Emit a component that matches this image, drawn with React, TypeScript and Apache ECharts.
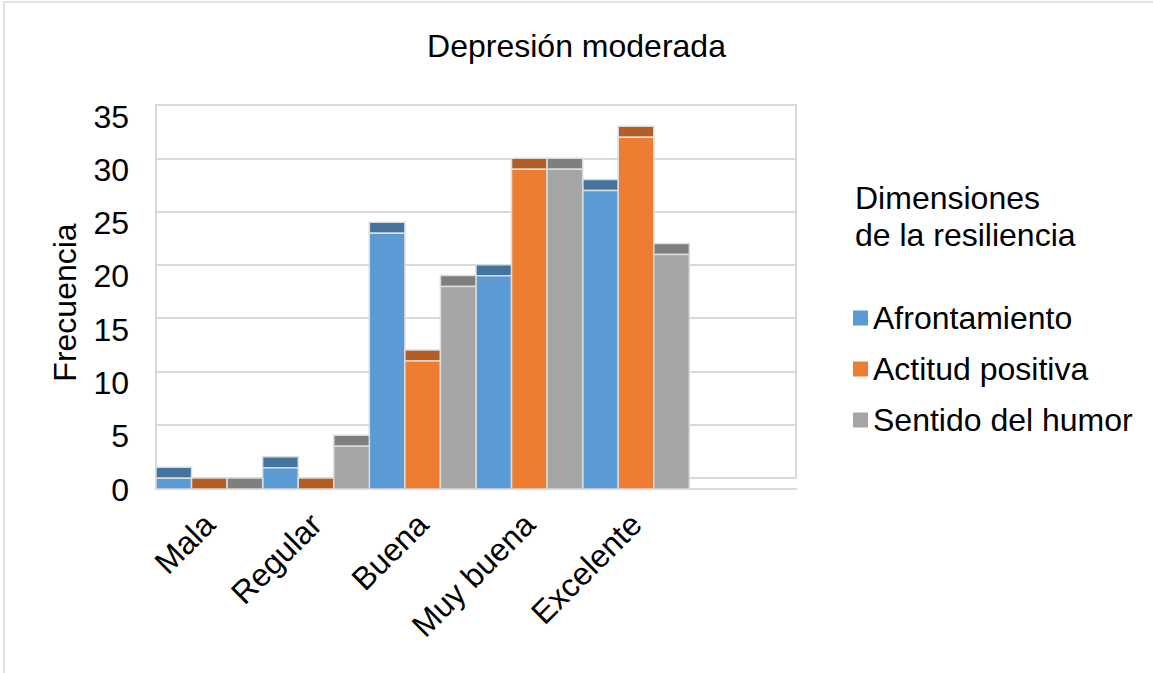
import React, { useEffect, useRef } from "react";
import * as echarts from "echarts";

const categories = ["Mala", "Regular", "Buena", "Muy buena", "Excelente"];
const seriesNames = ["Afrontamiento", "Actitud positiva", "Sentido del humor"];
const afrontamiento = [1, 2, 24, 20, 28];
const actitudPositiva = [0, 0, 12, 30, 33];
const sentidoHumor = [0, 4, 19, 30, 22];
const yTicks = { min: 0, max: 35, interval: 5 };

const bodyColors = ["#5b9bd5", "#ed7d31", "#a5a5a5"];
const capColors = ["#44739e", "#b55d22", "#7f7f7f"];
const DEPTH = 11;
const FONT = "'Liberation Sans', Arial, sans-serif";

function makeRender(sIdx: number) {
  return (params: any, api: any) => {
    const cat = api.value(0);
    const v = api.value(1);
    const base = api.coord([cat, 0]);
    const top = api.coord([cat, v]);
    const band = api.size([1, 0])[0];
    const w = band / 3;
    const x = base[0] - band / 2 + sIdx * w;
    const children: any[] = [
      {
        type: "rect",
        shape: { x, y: top[1], width: w, height: DEPTH },
        style: { fill: capColors[sIdx], stroke: "#dcdcdc", lineWidth: 1.5 },
      },
    ];
    const h = base[1] - top[1];
    if (h > 0.5) {
      children.push({
        type: "rect",
        shape: { x, y: top[1] + DEPTH, width: w, height: h },
        style: { fill: bodyColors[sIdx], stroke: "#dcdcdc", lineWidth: 1.5 },
      });
    }
    return { type: "group", children };
  };
}

export default function App() {
  const ref = useRef<HTMLDivElement>(null);
  useEffect(() => {
    if (!ref.current) return;
    const chart = echarts.init(ref.current, null, { renderer: "svg" });
    const allData = [afrontamiento, actitudPositiva, sentidoHumor];
    chart.setOption({
      animation: false,
      backgroundColor: "#ffffff",
      title: {
        text: "Depresión moderada",
        left: "center",
        top: 25,
        textStyle: { fontFamily: FONT, fontSize: 32, fontWeight: "normal", color: "#000" },
      },
      legend: {
        orient: "vertical",
        left: 848,
        top: 297,
        itemWidth: 15,
        itemHeight: 15,
        itemGap: 19,
        itemTextGap: 9,
        icon: "rect",
        data: seriesNames,
        textStyle: { fontFamily: FONT, fontSize: 32, color: "#000", lineHeight: 32 },
      },
      grid: {
        left: 156,
        top: 105,
        width: 640,
        height: 373,
        show: true,
        borderColor: "#d9d9d9",
        borderWidth: 2,
        containLabel: false,
      },
      xAxis: {
        type: "category",
        data: [...categories, ""],
        boundaryGap: true,
        axisTick: { show: false },
        axisLine: { show: true, lineStyle: { color: "#d9d9d9", width: 2 } },
        axisLabel: {
          rotate: 45,
          interval: 0,
          margin: 41,
          fontFamily: FONT,
          fontSize: 32,
          color: "#000",
        },
      },
      yAxis: {
        type: "value",
        min: yTicks.min,
        max: yTicks.max,
        interval: yTicks.interval,
        name: "Frecuencia",
        nameLocation: "middle",
        nameGap: 75,
        nameTextStyle: { fontFamily: FONT, fontSize: 32, color: "#000", padding: [0, 0, 0, -22] },
        axisLine: { show: true, lineStyle: { color: "#d9d9d9", width: 2 } },
        axisTick: { show: false },
        splitLine: { show: true, lineStyle: { color: "#d9d9d9", width: 2 } },
        axisLabel: {
          margin: 27,
          fontFamily: FONT,
          fontSize: 32,
          color: "#000",
          verticalAlign: "top",
          lineHeight: 23,
        },
      },
      graphic: [
        {
          type: "rect",
          shape: { x: 4, y: 2, width: 1300, height: 800 },
          style: { fill: "none", stroke: "#d9d9d9", lineWidth: 1.5 },
          silent: true,
        },
        {
          type: "line",
          shape: { x1: 156, y1: 489, x2: 797, y2: 489 },
          style: { stroke: "#d9d9d9", lineWidth: 2 },
          silent: true,
        },
        {
          type: "line",
          shape: { x1: 156, y1: 477, x2: 156, y2: 490 },
          style: { stroke: "#d9d9d9", lineWidth: 2 },
          silent: true,
        },
        {
          type: "text",
          left: 855,
          top: 179,
          style: {
            text: "Dimensiones\nde la resiliencia",
            fontFamily: FONT,
            fontSize: 32,
            lineHeight: 37,
            fill: "#000",
          },
        },
      ],
      series: seriesNames.map((name, s) => ({
        name,
        type: "custom",
        clip: false,
        itemStyle: { color: bodyColors[s] },
        renderItem: makeRender(s),
        encode: { x: 0, y: 1 },
        data: allData[s].map((v, i) => [i, v]),
      })),
    });
    return () => chart.dispose();
  }, []);
  return (
    <div
      ref={ref}
      style={{ position: "absolute", left: 0, top: 0, width: 1153, height: 673 }}
    />
  );
}
